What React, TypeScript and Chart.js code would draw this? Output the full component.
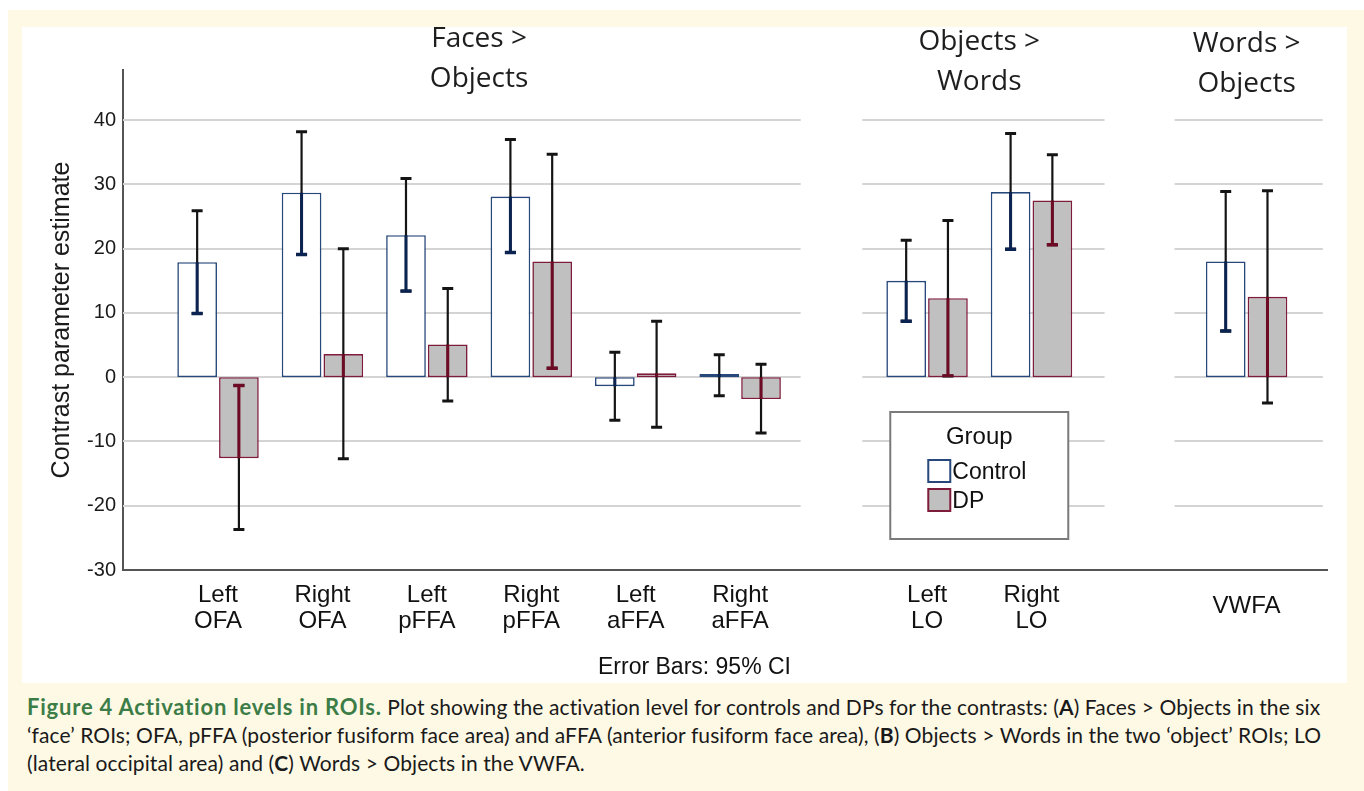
import React, { useEffect, useRef } from 'react';
import { Chart, registerables } from 'chart.js';

Chart.register(...registerables);

// ---------- data ----------
const roiLabels: string[][] = [
  ['Left', 'OFA'], ['Right', 'OFA'], ['Left', 'pFFA'], ['Right', 'pFFA'],
  ['Left', 'aFFA'], ['Right', 'aFFA'], ['Left', 'LO'], ['Right', 'LO'], ['VWFA'],
];
const roiPanel = [0, 0, 0, 0, 0, 0, 1, 1, 2];
const panelTitles: string[][] = [['Faces >', 'Objects'], ['Objects >', 'Words'], ['Words >', 'Objects']];
const groupNames = ['Control', 'DP'];

const controlMean = [17.9, 28.7, 22.1, 28.1, -1.4, 0.5, 15.0, 28.8, 18.0];
const controlLow = [9.9, 19.1, 13.4, 19.4, -6.7, -2.9, 8.7, 19.9, 7.2];
const controlHigh = [25.9, 38.2, 30.9, 37.0, 3.9, 3.5, 21.3, 37.9, 28.9];

const dpMean = [-12.6, 3.6, 5.1, 18.0, 0.6, -3.4, 12.3, 27.5, 12.5];
const dpLow = [-23.7, -12.7, -3.7, 1.4, -7.8, -8.7, 0.2, 20.6, -4.0];
const dpHigh = [-1.3, 20.0, 13.8, 34.7, 8.7, 2.0, 24.4, 34.6, 29.0];

const yTicks = [-30, -20, -10, 0, 10, 20, 30, 40];
const yTitle = 'Contrast parameter estimate';
const legendTitle = 'Group';
const errorNote = 'Error Bars: 95% CI';

// ---------- layout constants ----------
const panelGapUnits = [0, 0.79, 1.06]; // extra space before each panel, in category widths
const gridPad: [number, number][] = [[0, 0.58], [0.62, 0.7], [0.69, 0.73]];
const SANS = "'Liberation Sans', Arial, sans-serif";
const TITLE_FONT = "'Open Sans', sans-serif";

function computePositions(): number[] {
  const cum: number[] = [];
  let acc = 0;
  panelGapUnits.forEach((g) => { acc += g; cum.push(acc); });
  return roiPanel.map((p, i) => i + cum[p]);
}

export default function App() {
  const ref = useRef<HTMLCanvasElement>(null);

  useEffect(() => {
    const canvas = ref.current;
    if (!canvas) return;
    const positions = computePositions();
    const means = [controlMean, dpMean];
    const lows = [controlLow, dpLow];
    const highs = [controlHigh, dpHigh];
    const borderColors = ['#27487a', '#7e1d3b'];
    const fillColors = ['#ffffff', '#c0c0c0'];
    const innerErrColors = ['#0b2350', '#6e0b24'];

    const panelCenters = panelTitles.map((_, p) => {
      const xs = positions.filter((_, i) => roiPanel[i] === p);
      return xs.reduce((a, b) => a + b, 0) / xs.length;
    });

    const gridPlugin = {
      id: 'panelGrid',
      beforeDatasetsDraw(chart: any) {
        const { ctx, chartArea } = chart;
        const xs = chart.scales.x;
        const ys = chart.scales.y;
        ctx.save();
        ctx.strokeStyle = '#d4d4d4';
        ctx.lineWidth = 2;
        panelTitles.forEach((_, p) => {
          const px = positions.filter((_, i) => roiPanel[i] === p);
          const left = p === 0 ? chartArea.left : xs.getPixelForValue(Math.min(...px) - gridPad[p][0]);
          const right = xs.getPixelForValue(Math.max(...px) + gridPad[p][1]);
          yTicks.forEach((v) => {
            if (v === yTicks[0]) return;
            const y = Math.round(ys.getPixelForValue(v));
            ctx.beginPath();
            ctx.moveTo(left, y);
            ctx.lineTo(right, y);
            ctx.stroke();
          });
        });
        ctx.restore();
      },
    };

    const errorPlugin = {
      id: 'errorBars',
      afterDatasetsDraw(chart: any) {
        const { ctx } = chart;
        const ys = chart.scales.y;
        const cap = 5.5;
        chart.data.datasets.forEach((_: any, d: number) => {
          const meta = chart.getDatasetMeta(d);
          meta.data.forEach((el: any, i: number) => {
            const x = el.x;
            const yl = ys.getPixelForValue(lows[d][i]);
            const yh = ys.getPixelForValue(highs[d][i]);
            const path = (lw: number, capLw: number, color: string) => {
              ctx.strokeStyle = color;
              ctx.lineWidth = lw;
              ctx.beginPath();
              ctx.moveTo(x, yl);
              ctx.lineTo(x, yh);
              ctx.stroke();
              ctx.lineWidth = capLw;
              ctx.beginPath();
              ctx.moveTo(x - cap, yl);
              ctx.lineTo(x + cap, yl);
              ctx.moveTo(x - cap, yh);
              ctx.lineTo(x + cap, yh);
              ctx.stroke();
            };
            ctx.save();
            path(2.2, 3, '#141414');
            ctx.restore();
            ctx.save();
            const top = Math.min(el.y, el.base);
            const h = Math.abs(el.base - el.y);
            ctx.beginPath();
            ctx.rect(x - el.width / 2, top, el.width, h);
            ctx.clip();
            path(3, 3.4, innerErrColors[d]);
            ctx.restore();
          });
        });
      },
    };

    const textPlugin = {
      id: 'panelText',
      afterDraw(chart: any) {
        const { ctx, chartArea } = chart;
        const xs = chart.scales.x;
        ctx.save();
        // panel titles
        ctx.fillStyle = '#1e1e1e';
        ctx.font = `28px ${TITLE_FONT}`;
        ctx.textAlign = 'center';
        ctx.textBaseline = 'middle';
        panelTitles.forEach((lines, p) => {
          const cx = xs.getPixelForValue(panelCenters[p]);
          const off = p === 0 ? 0 : p === 1 ? 3 : 5;
          lines.forEach((line, k) => {
            ctx.fillText(line, cx, chartArea.top - 31 + off + k * 40);
          });
        });
        // error bar note
        ctx.font = `23px ${SANS}`;
        ctx.fillStyle = '#111';
        ctx.fillText(errorNote, chart.width / 2 + 10, chartArea.bottom + 98);

        // legend
        const lcx = xs.getPixelForValue(panelCenters[1]);
        const bw = 178;
        const bh = 127;
        const bx = lcx - bw / 2;
        const by = chartArea.top + 342;
        ctx.fillStyle = '#ffffff';
        ctx.fillRect(bx, by, bw, bh);
        ctx.strokeStyle = '#7a7a7a';
        ctx.lineWidth = 2;
        ctx.strokeRect(bx, by, bw, bh);
        ctx.fillStyle = '#111';
        ctx.font = `24px ${SANS}`;
        ctx.textAlign = 'center';
        ctx.fillText(legendTitle, lcx, by + 25);
        ctx.textAlign = 'left';
        ctx.font = `23px ${SANS}`;
        groupNames.forEach((name, k) => {
          const sy = by + 48 + k * 29;
          ctx.fillStyle = fillColors[k];
          ctx.fillRect(lcx - 51, sy, 22, 22);
          ctx.strokeStyle = borderColors[k];
          ctx.lineWidth = 2;
          ctx.strokeRect(lcx - 51, sy, 22, 22);
          ctx.fillStyle = '#111';
          ctx.fillText(name, lcx - 27, sy + 13);
        });
        ctx.restore();
      },
    };

    const chart = new Chart(canvas, {
      type: 'bar',
      data: {
        datasets: groupNames.map((name, d) => ({
          label: name,
          data: means[d].map((y, i) => ({ x: positions[i], y })),
          backgroundColor: fillColors[d],
          borderColor: borderColors[d],
          borderWidth: 1.6,
          borderSkipped: false,
          categoryPercentage: 0.8,
          barPercentage: 0.95,
        })),
      },
      options: {
        animation: false,
        responsive: true,
        maintainAspectRatio: false,
        layout: { padding: { top: 43, right: 20, left: 0, bottom: 0 } },
        plugins: { legend: { display: false }, tooltip: { enabled: false } },
        scales: {
          x: {
            type: 'linear',
            min: -0.91,
            max: 10.62,
            offset: false,
            grid: { display: false, drawTicks: false },
            border: { display: true, color: '#555555', width: 2 },
            afterBuildTicks: (s: any) => { s.ticks = positions.map((v) => ({ value: v })); },
            afterFit: (s: any) => { s.height = 113; },
            ticks: {
              autoSkip: false,
              maxRotation: 0,
              minRotation: 0,
              padding: 12,
              color: '#111',
              font: (c: any) => ({
                family: SANS,
                size: 24,
                lineHeight: roiLabels[c.index] && roiLabels[c.index].length === 1 ? '48px' : '26px',
              }),
              callback: (_v: any, i: number) => roiLabels[i],
            },
          },
          y: {
            type: 'linear',
            min: -30,
            max: 47.8,
            grid: { display: false, drawTicks: false },
            border: { display: true, color: '#555555', width: 2 },
            afterBuildTicks: (s: any) => { s.ticks = yTicks.map((v) => ({ value: v })); },
            afterFit: (s: any) => { s.width = 101; },
            ticks: {
              padding: 7,
              color: '#1a1a1a',
              font: { family: SANS, size: 20 },
            },
            title: {
              display: true,
              text: yTitle,
              color: '#1a1a1a',
              font: { family: SANS, size: 25 },
              padding: { top: 25, bottom: 0 },
            },
          },
        },
      },
      plugins: [gridPlugin, errorPlugin, textPlugin],
    } as any);

    return () => chart.destroy();
  }, []);

  const bold = { fontWeight: 700 } as const;
  return (
    <div style={{ position: 'fixed', left: 8, top: 10, width: 1356, height: 781, background: '#FEF9E5', overflow: 'hidden' }}>
      <div style={{ position: 'absolute', left: 14, top: 17, width: 1325, height: 656, background: '#ffffff' }}>
        <canvas ref={ref} />
      </div>
      <div
        style={{
          position: 'absolute', left: 19, top: 683, fontFamily: 'Lato, sans-serif', fontSize: 21,
          letterSpacing: '0.1px', lineHeight: '28px', color: '#1a1a1a', whiteSpace: 'nowrap',
        }}
      >
        <span style={{ color: '#3c7d47', fontWeight: 700, fontSize: 22, letterSpacing: '0.8px' }}>Figure 4 Activation levels in ROIs.</span>{' '}
        Plot showing the activation level for controls and DPs for the contrasts: (<span style={bold}>A</span>) Faces &gt; Objects in the six
        <br />
        ‘face’ ROIs; OFA, pFFA (posterior fusiform face area) and aFFA (anterior fusiform face area), (<span style={bold}>B</span>) Objects &gt; Words in the two ‘object’ ROIs; LO
        <br />
        (lateral occipital area) and (<span style={bold}>C</span>) Words &gt; Objects in the VWFA.
      </div>
    </div>
  );
}
